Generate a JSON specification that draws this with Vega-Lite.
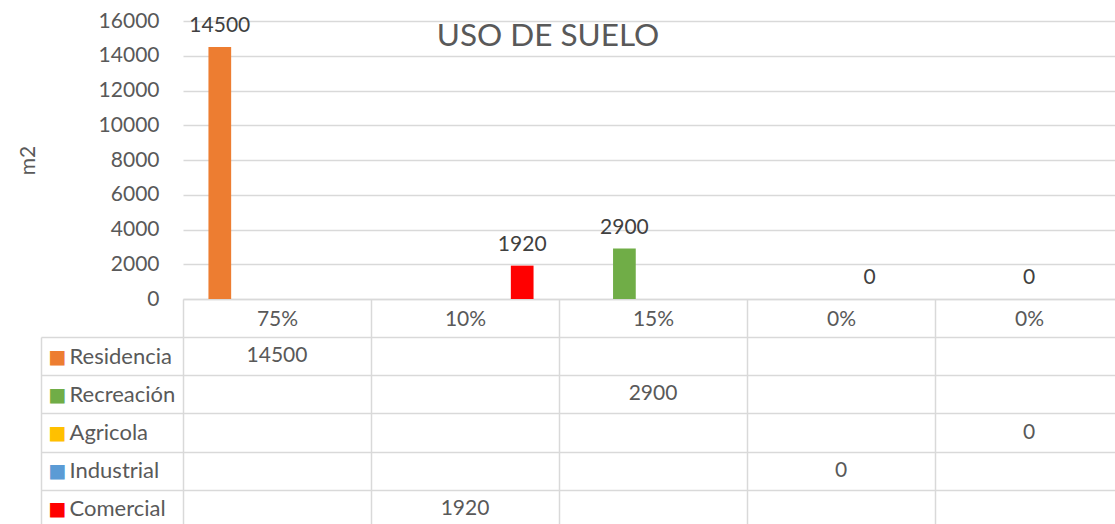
{
  "$schema": "https://vega.github.io/schema/vega-lite/v6.json",
  "padding": {"left": 17, "top": 10, "right": 0, "bottom": 0},
  "spacing": 38,
  "bounds": "flush",
  "config": {
    "view": {"stroke": null},
    "font": "Lato",
    "text": {"font": "Lato", "fontSize": 21, "color": "#595959"},
    "axis": {"labelFont": "Lato", "titleFont": "Lato"}
  },
  "datasets": {
    "uso": [
      {"cat": "c1", "label": "75%", "series": "Residencia", "value": 14500},
      {"cat": "c2", "label": "10%", "series": "Comercial", "value": 1920},
      {"cat": "c3", "label": "15%", "series": "Recreación", "value": 2900},
      {"cat": "c4", "label": "0%", "series": "Industrial", "value": 0},
      {"cat": "c5", "label": "0%", "series": "Agricola", "value": 0}
    ]
  },
  "resolve": {"scale": {"x": "independent", "y": "independent"}},
  "vconcat": [
    {
      "width": 940,
      "height": 278,
      "title": {"text": "USO DE SUELO", "fontSize": 31.5, "font": "Lato", "color": "#595959", "fontWeight": "normal", "anchor": "middle", "frame": "group", "offset": -25, "baseline": "alphabetic", "dx": -105, "dy": 42},
      "data": {"name": "uso"},
      "encoding": {
        "x": {
          "field": "cat", "type": "nominal",
          "scale": {"domain": ["c1", "c2", "c3", "c4", "c5"], "paddingInner": 0, "paddingOuter": 0},
          "axis": {
            "title": null, "orient": "bottom", "domain": true, "domainColor": "#D9D9D9", "domainWidth": 1.5,
            "ticks": true, "tickBand": "extent", "tickSize": 38, "tickColor": "#D9D9D9", "tickWidth": 1.5,
            "grid": false, "labelAngle": 0, "labelPadding": -18, "labelBaseline": "middle",
            "labelFontSize": 21, "labelColor": "#595959",
            "labelExpr": "datum.value == 'c1' ? '75%' : datum.value == 'c2' ? '10%' : datum.value == 'c3' ? '15%' : (datum.value == 'c4' || datum.value == 'c5') ? '0%' : ''"
          }
        },
        "xOffset": {"field": "series", "type": "nominal", "scale": {"domain": ["Residencia", "Recreación", "Agricola", "Industrial", "Comercial"], "paddingInner": 0.206, "paddingOuter": 0.89}},
        "y": {
          "field": "value", "type": "quantitative",
          "scale": {"domain": [0, 16000], "nice": false},
          "axis": {
            "title": "m2", "values": [0, 2000, 4000, 6000, 8000, 10000, 12000, 14000, 16000], "format": "d",
            "domain": false, "ticks": false, "grid": true, "gridColor": "#D9D9D9", "gridWidth": 1.5,
            "labelPadding": 24, "labelFontSize": 21, "labelColor": "#595959",
            "titleFontSize": 21, "titleColor": "#595959", "titleFontWeight": "normal", "titlePadding": 60
          }
        }
      },
      "layer": [
        {
          "mark": {"type": "bar"},
          "encoding": {
            "color": {"field": "series", "type": "nominal", "legend": null,
              "scale": {"domain": ["Residencia", "Recreación", "Agricola", "Industrial", "Comercial"], "range": ["#ED7D31", "#70AD47", "#FFC000", "#5B9BD5", "#FF0000"]}}
          }
        },
        {
          "mark": {"type": "text", "baseline": "alphabetic", "dy": -15, "fontSize": 21, "color": "#404040"},
          "encoding": {"text": {"field": "value", "type": "quantitative", "format": "d"}}
        }
      ]
    },
    {
      "width": 940,
      "height": 191,
      "data": {"name": "uso"},
      "encoding": {
        "x": {
          "field": "cat", "type": "nominal",
          "scale": {"domain": ["c1", "c2", "c3", "c4", "c5"], "paddingInner": 0, "paddingOuter": 0},
          "axis": {"title": null, "labels": false, "ticks": false, "domain": false, "grid": true, "tickBand": "extent", "gridColor": "#D9D9D9", "gridWidth": 1.5}
        }
      },
      "layer": [
        {
          "transform": [{"filter": "datum.series == 'Residencia' || datum.series == 'Recreación' || datum.series == 'Comercial'"}],
          "mark": {"type": "text", "fontSize": 21, "color": "#595959", "baseline": "middle"},
          "encoding": {
            "y": {
              "field": "series", "type": "nominal",
              "scale": {"domain": ["Residencia", "Recreación", "Agricola", "Industrial", "Comercial"], "paddingInner": 0, "paddingOuter": 0},
              "axis": {
                "title": null, "orient": "left", "domain": false, "ticks": true, "tickBand": "extent", "tickSize": 142,
                "tickColor": "#D9D9D9", "tickWidth": 1.5, "grid": true, "gridColor": "#D9D9D9", "gridWidth": 1.5,
                "labelAlign": "left", "labelBaseline": "middle", "labelPadding": -28, "labelFontSize": 22, "labelColor": "#595959"
              }
            },
            "text": {"field": "value", "type": "quantitative", "format": "d"}
          }
        },
        {
          "transform": [{"filter": "datum.series == 'Agricola' || datum.series == 'Industrial'"}],
          "mark": {"type": "text", "fontSize": 21, "color": "#595959", "baseline": "middle"},
          "encoding": {
            "y": {
              "field": "series", "type": "nominal",
              "scale": {"domain": ["Residencia", "Recreación", "Agricola", "Industrial", "Comercial"], "paddingInner": 0, "paddingOuter": 0},
              "axis": {
                "title": null, "orient": "left", "offset": 142, "domain": true, "domainColor": "#D9D9D9", "domainWidth": 1.5,
                "ticks": false, "grid": false, "labelExpr": "'■'", "labelFont": "DejaVu Sans",
                "labelAlign": "left", "labelBaseline": "middle", "labelPadding": -7, "labelFontSize": 19,
                "labelColor": {
                  "condition": [
                    {"test": "datum.value == 'Residencia'", "value": "#ED7D31"},
                    {"test": "datum.value == 'Recreación'", "value": "#70AD47"},
                    {"test": "datum.value == 'Agricola'", "value": "#FFC000"},
                    {"test": "datum.value == 'Industrial'", "value": "#5B9BD5"}
                  ],
                  "value": "#FF0000"
                }
              }
            },
            "text": {"field": "value", "type": "quantitative", "format": "d"}
          }
        }
      ],
      "resolve": {"scale": {"y": "independent"}}
    }
  ]
}
